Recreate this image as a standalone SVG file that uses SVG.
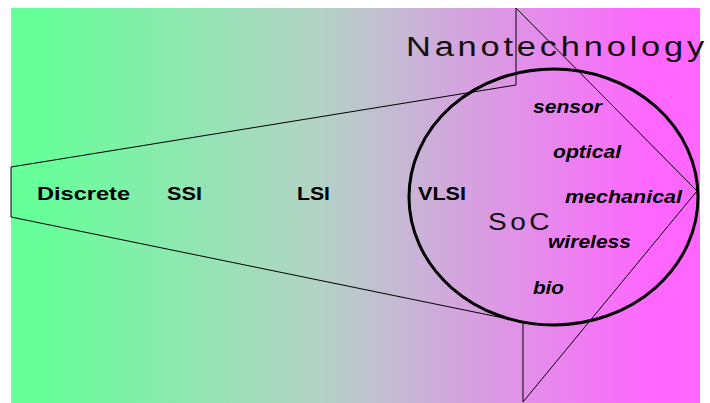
<svg xmlns="http://www.w3.org/2000/svg" width="710" height="403" viewBox="0 0 710 403">
  <defs>
    <linearGradient id="bg" x1="11" y1="0" x2="700" y2="0" gradientUnits="userSpaceOnUse">
      <stop offset="0.04" stop-color="#66ff99"/>
      <stop offset="0.45" stop-color="#b4d2c6"/>
      <stop offset="0.93" stop-color="#ff66ff"/>
    </linearGradient>
  </defs>
  <style>
    .era { font-family: "Liberation Sans", Arial, sans-serif; font-weight: bold; font-size: 19px; fill: #000; }
    .app { font-family: "Liberation Sans", Arial, sans-serif; font-weight: bold; font-style: italic; font-size: 18px; fill: #000; }
    .big { font-family: "Liberation Sans", Arial, sans-serif; fill: #111; letter-spacing: 3px; }
    .outline { fill: none; stroke: #000; stroke-width: 1; }
  </style>

  <!-- background band -->
  <rect x="11" y="8" width="689" height="395" fill="url(#bg)"/>

  <!-- technology eras -->
  <g id="discrete"><text class="era" x="37" y="200" textLength="93" lengthAdjust="spacingAndGlyphs">Discrete</text></g>
  <g id="ssi"><text class="era" x="167" y="200" textLength="35" lengthAdjust="spacingAndGlyphs">SSI</text></g>
  <g id="lsi"><text class="era" x="297" y="200" textLength="33" lengthAdjust="spacingAndGlyphs">LSI</text></g>
  <g id="vlsi"><text class="era" x="418" y="200" textLength="48" lengthAdjust="spacingAndGlyphs">VLSI</text></g>

  <!-- nanotechnology heading -->
  <g id="nanotechnology"><text class="big" x="406" y="56" font-size="27" textLength="302" lengthAdjust="spacingAndGlyphs">Nanotechnology</text></g>

  <!-- SoC domain -->
  <g id="soc">
    <ellipse cx="553.5" cy="197" rx="144.5" ry="128" fill="none" stroke="#000" stroke-width="3"/>
    <text class="big" x="488" y="230" font-size="24" textLength="65" lengthAdjust="spacingAndGlyphs">SoC</text>
  </g>
  <g id="sensor"><text class="app" x="533" y="113" textLength="69" lengthAdjust="spacingAndGlyphs">sensor</text></g>
  <g id="optical"><text class="app" x="553" y="158" textLength="68" lengthAdjust="spacingAndGlyphs">optical</text></g>
  <g id="mechanical"><text class="app" x="565" y="203" textLength="117" lengthAdjust="spacingAndGlyphs">mechanical</text></g>
  <g id="wireless"><text class="app" x="548" y="248" textLength="83" lengthAdjust="spacingAndGlyphs">wireless</text></g>
  <g id="bio"><text class="app" x="533" y="294" textLength="31" lengthAdjust="spacingAndGlyphs">bio</text></g>

  <!-- widening funnel into arrowhead -->
  <g id="connectors">
    <polygon class="outline" points="11,167 516,85 516,8 697,191 523,402 523,322 11,217"/>
  </g>
</svg>
